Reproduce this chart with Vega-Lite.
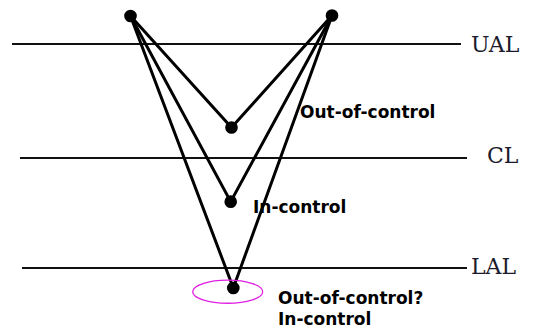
{
  "$schema": "https://vega.github.io/schema/vega-lite/v6.json",
  "autosize": {"type": "none"},
  "width": 546,
  "height": 330,
  "padding": 0,
  "background": "white",
  "config": {"view": {"stroke": null}},
  "datasets": {
    "limits": [
      {"name": "UAL", "x1": 12, "x2": 461, "y": 44, "lx": 471, "ly": 45},
      {"name": "CL", "x1": 20, "x2": 467, "y": 158, "lx": 487, "ly": 156},
      {"name": "LAL", "x1": 22, "x2": 467, "y": 268, "lx": 471, "ly": 267}
    ],
    "paths": [
      {"path": "a", "step": 1, "x": 130.5, "y": 16},
      {"path": "a", "step": 2, "x": 231.5, "y": 127.5},
      {"path": "a", "step": 3, "x": 332, "y": 15.5},
      {"path": "b", "step": 1, "x": 130.5, "y": 16},
      {"path": "b", "step": 2, "x": 230.7, "y": 201.7},
      {"path": "b", "step": 3, "x": 332, "y": 15.5},
      {"path": "c", "step": 1, "x": 130.5, "y": 16},
      {"path": "c", "step": 2, "x": 233.3, "y": 288},
      {"path": "c", "step": 3, "x": 332, "y": 15.5}
    ],
    "dots": [
      {"x": 130.5, "y": 16},
      {"x": 332, "y": 15.5},
      {"x": 231.5, "y": 127.5},
      {"x": 230.7, "y": 201.7},
      {"x": 233.3, "y": 288}
    ],
    "ellipse": [{"x": 227.7, "y": 291.7}],
    "notes": [
      {"label": "Out-of-control", "x": 300, "y": 113},
      {"label": "In-control", "x": 253, "y": 208},
      {"label": "Out-of-control?", "x": 278, "y": 299},
      {"label": "In-control", "x": 278, "y": 320}
    ]
  },
  "layer": [
    {
      "data": {"name": "limits"},
      "mark": {"type": "rule", "color": "#111111", "strokeWidth": 2},
      "encoding": {
        "x": {"field": "x1", "type": "quantitative", "scale": {"domain": [0, 546], "nice": false, "zero": false}, "axis": null},
        "x2": {"field": "x2"},
        "y": {"field": "y", "type": "quantitative", "scale": {"domain": [0, 330], "reverse": true, "nice": false, "zero": false}, "axis": null}
      }
    },
    {
      "data": {"name": "limits"},
      "mark": {"type": "text", "font": "DejaVu Serif", "fontSize": 22, "align": "left", "baseline": "middle", "color": "#1c1c2c"},
      "encoding": {
        "x": {"field": "lx", "type": "quantitative"},
        "y": {"field": "ly", "type": "quantitative"},
        "text": {"field": "name"}
      }
    },
    {
      "data": {"name": "paths"},
      "mark": {"type": "line", "color": "#000000", "strokeWidth": 3},
      "encoding": {
        "x": {"field": "x", "type": "quantitative"},
        "y": {"field": "y", "type": "quantitative"},
        "detail": {"field": "path"},
        "order": {"field": "step"}
      }
    },
    {
      "data": {"name": "dots"},
      "mark": {"type": "point", "shape": "circle", "filled": true, "color": "#000000", "opacity": 1, "size": 160},
      "encoding": {
        "x": {"field": "x", "type": "quantitative"},
        "y": {"field": "y", "type": "quantitative"}
      }
    },
    {
      "data": {"name": "ellipse"},
      "mark": {"type": "point", "shape": "M -1 0 C -1 -0.182 -0.552 -0.33 0 -0.33 C 0.552 -0.33 1 -0.182 1 0 C 1 0.182 0.552 0.33 0 0.33 C -0.552 0.33 -1 0.182 -1 0 Z", "filled": false, "stroke": "#e020e0", "strokeWidth": 1.3, "opacity": 1, "size": 4900},
      "encoding": {
        "x": {"field": "x", "type": "quantitative"},
        "y": {"field": "y", "type": "quantitative"}
      }
    },
    {
      "data": {"name": "notes"},
      "mark": {"type": "text", "font": "DejaVu Sans", "fontWeight": "bold", "fontSize": 17, "align": "left", "baseline": "middle", "color": "#000000"},
      "encoding": {
        "x": {"field": "x", "type": "quantitative"},
        "y": {"field": "y", "type": "quantitative"},
        "text": {"field": "label"}
      }
    }
  ]
}
